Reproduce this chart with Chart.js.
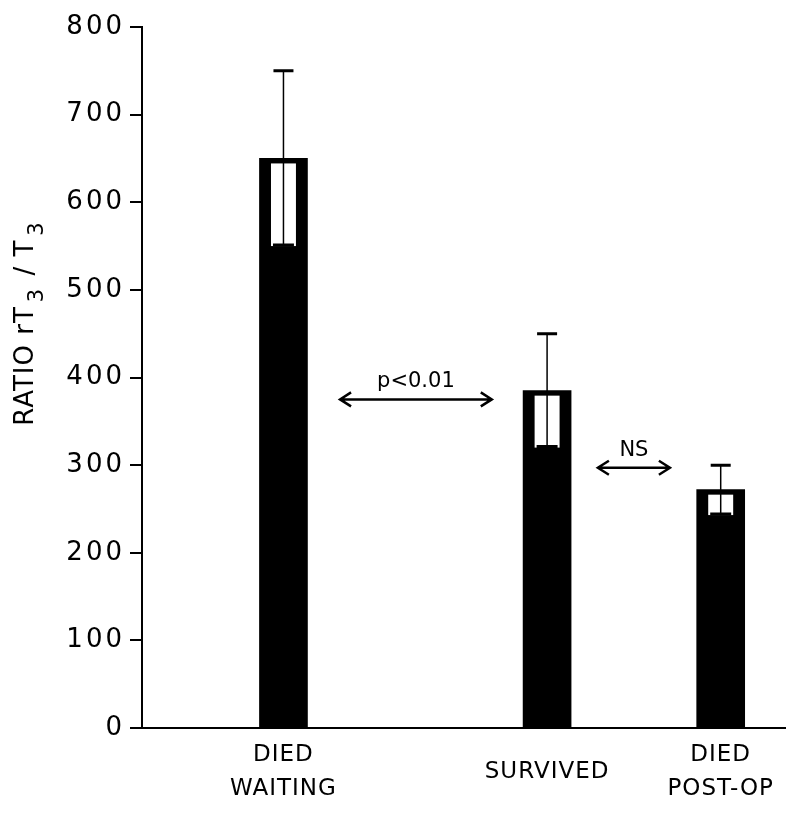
<!DOCTYPE html>
<html>
<head>
<meta charset="utf-8">
<script src="https://cdn.jsdelivr.net/npm/chart.js@4.4.1/dist/chart.umd.min.js"></script>
<style>
  html, body { margin: 0; background: #fff; }
  #wrap { width: 800px; height: 817px; }
</style>
</head>
<body>
<div id="wrap"><canvas id="chart"></canvas></div>
<script>
// groups along the x axis, with their place on a 0-100 axis
const groups = [['DIED', 'WAITING'], 'SURVIVED', ['DIED', 'POST-OP']];
const groupPos = [22, 63, 90];
// mean ratio and the error bar ends
const means = [650, 385, 272];
const upper = [750, 450, 300];
const lower = [550, 320, 243];
const yTicks = [0, 100, 200, 300, 400, 500, 600, 700, 800];
// comparison arrows
const compLabels = ['p<0.01', 'NS'];
const compFrom = [30.8, 70.9];
const compTo = [54.4, 82.1];
const compLevel = [375, 297];
// axis title, split where the subscripts go (second item: 1 = subscript)
const yTitle = [['RATIO', 0], [' rT', 0], ['3', 1], [' / T', 0], ['3', 1]];

const FONT = 'DejaVu Sans';
const tickSpacing = { x: '1px', y: '3px' };

// wide lettering on the tick labels, like the typed original
const spacing = {
    id: 'spacing',
    afterLayout(chart) {
        Object.keys(tickSpacing).forEach(id => {
            const s = chart.scales[id];
            if (!s || s._spaced) return;
            const orig = s.drawLabels;
            s.drawLabels = function (area) {
                const prev = this.ctx.letterSpacing;
                this.ctx.letterSpacing = tickSpacing[id];
                orig.call(this, area);
                this.ctx.letterSpacing = prev;
            };
            s._spaced = true;
        });
    }
};

const errorBars = {
    id: 'errorBars',
    afterDatasetsDraw(chart) {
        const ctx = chart.ctx;
        const y = chart.scales.y;
        const meta = chart.getDatasetMeta(0);
        ctx.save();
        meta.data.forEach((bar, i) => {
            const inner = bar.width * 0.26;
            const yHi = y.getPixelForValue(upper[i]);
            const yLo = y.getPixelForValue(lower[i]);
            const yMean = bar.y;
            ctx.fillStyle = '#fff';
            ctx.fillRect(bar.x - inner, yMean + 5, inner * 2, yLo - yMean - 5);
            ctx.strokeStyle = '#000';
            ctx.lineWidth = 1.5;
            ctx.beginPath();
            ctx.moveTo(bar.x, yHi);
            ctx.lineTo(bar.x, yLo);
            ctx.stroke();
            ctx.lineWidth = 3;
            ctx.beginPath();
            ctx.moveTo(bar.x - 10, yHi);
            ctx.lineTo(bar.x + 10, yHi);
            ctx.moveTo(bar.x - inner + 2, yLo - 1);
            ctx.lineTo(bar.x + inner - 2, yLo - 1);
            ctx.stroke();
        });
        ctx.restore();
    }
};

const arrows = {
    id: 'arrows',
    afterDraw(chart) {
        const ctx = chart.ctx;
        const { x, y } = chart.scales;
        ctx.save();
        ctx.strokeStyle = '#000';
        ctx.fillStyle = '#000';
        ctx.lineWidth = 2.5;
        compLabels.forEach((label, i) => {
            const x1 = x.getPixelForValue(compFrom[i]);
            const x2 = x.getPixelForValue(compTo[i]);
            const py = y.getPixelForValue(compLevel[i]);
            ctx.beginPath();
            ctx.moveTo(x1, py);
            ctx.lineTo(x2, py);
            ctx.moveTo(x1 + 11, py - 7);
            ctx.lineTo(x1, py);
            ctx.lineTo(x1 + 11, py + 7);
            ctx.moveTo(x2 - 11, py - 7);
            ctx.lineTo(x2, py);
            ctx.lineTo(x2 - 11, py + 7);
            ctx.stroke();
            ctx.font = '21px "' + FONT + '"';
            ctx.letterSpacing = '0px';
            ctx.textAlign = 'center';
            ctx.textBaseline = 'alphabetic';
            ctx.fillText(label, (x1 + x2) / 2, py - 12);
        });
        ctx.restore();
    }
};

// rotated y title with real subscripts, drawn bottom to top
const axisTitle = {
    id: 'axisTitle',
    afterDraw(chart) {
        const ctx = chart.ctx;
        const area = chart.chartArea;
        ctx.save();
        ctx.translate(33, area.top + area.height * 0.569);
        ctx.rotate(-Math.PI / 2);
        ctx.fillStyle = '#000';
        ctx.textAlign = 'left';
        ctx.textBaseline = 'alphabetic';
        ctx.letterSpacing = '1px';
        let u = 0;
        yTitle.forEach(([t, sub]) => {
            ctx.font = (sub ? '21px "' : '26px "') + FONT + '"';
            if (sub) u += 4;
            ctx.fillText(t, u, sub ? 10 : 0);
            u += ctx.measureText(t).width + (sub ? 3 : 0);
        });
        ctx.restore();
    }
};

new Chart(document.getElementById('chart'), {
    type: 'bar',
    data: {
        datasets: [{
            data: groupPos.map((p, i) => ({ x: p, y: means[i] })),
            backgroundColor: '#000',
            borderWidth: 0,
            barThickness: 48
        }]
    },
    options: {
        responsive: true,
        maintainAspectRatio: false,
        animation: false,
        layout: { padding: { left: 6, right: 15, top: 27, bottom: 9 } },
        plugins: { legend: { display: false }, tooltip: { enabled: false } },
        scales: {
            x: {
                type: 'linear',
                min: 0,
                max: 100,
                offset: false,
                afterBuildTicks: (s) => { s.ticks = groupPos.map(v => ({ value: v })); },
                afterFit: (s) => { s.height = 80; },
                grid: { display: false, offset: false },
                border: { display: true, color: '#000', width: 2 },
                ticks: {
                    color: '#000',
                    padding: 19,
                    maxRotation: 0,
                    autoSkip: false,
                    crossAlign: 'center',
                    font: { family: FONT, size: 23, lineHeight: 1.48 },
                    callback: (v, i) => groups[i]
                }
            },
            y: {
                min: 0,
                max: 800,
                afterBuildTicks: (s) => { s.ticks = yTicks.map(v => ({ value: v })); },
                afterFit: (s) => { s.width = 136; },
                grid: { drawOnChartArea: false, drawTicks: true, tickLength: 12, color: '#000', lineWidth: 2 },
                border: { display: true, color: '#000', width: 2 },
                ticks: {
                    color: '#000',
                    padding: 5,
                    font: { family: FONT, size: 26 }
                }
            }
        }
    },
    plugins: [spacing, errorBars, arrows, axisTitle]
});
</script>
</body>
</html>
